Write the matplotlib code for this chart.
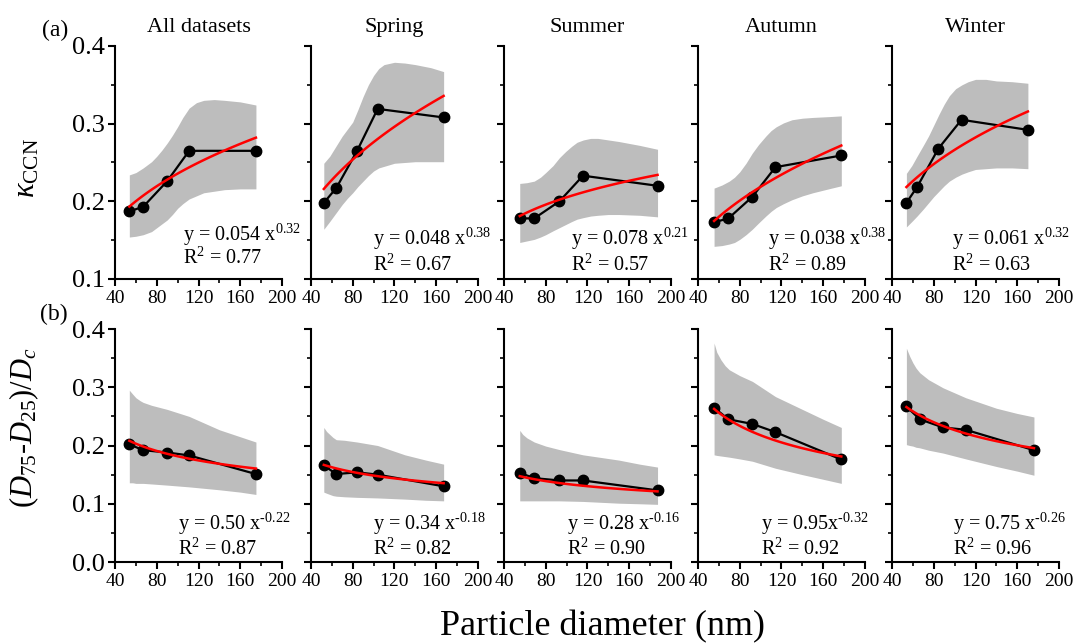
import numpy as np
import matplotlib
matplotlib.use('Agg')
import matplotlib.pyplot as plt
from matplotlib.ticker import MultipleLocator

plt.rcParams['font.family'] = 'Liberation Serif'
plt.rcParams['mathtext.fontset'] = 'custom'
plt.rcParams['mathtext.rm'] = 'Liberation Serif'
plt.rcParams['mathtext.it'] = 'Liberation Serif:italic'

seasons = ['All datasets', 'Spring', 'Summer', 'Autumn', 'Winter']

# (a) kappa_CCN vs diameter
k_x = [[53.7, 67, 90, 111, 175],
       [52.3, 64.2, 84.2, 103.9, 167.1],
       [55.1, 69, 93.1, 115.7, 187.1],
       [55.4, 69.1, 92.2, 114.2, 177.3],
       [53.8, 64.3, 84.5, 106.6, 170.2]]
k_y = [[0.187, 0.193, 0.226, 0.265, 0.265],
       [0.198, 0.217, 0.265, 0.319, 0.308],
       [0.178, 0.178, 0.200, 0.233, 0.220],
       [0.173, 0.178, 0.206, 0.244, 0.259],
       [0.198, 0.219, 0.268, 0.305, 0.292]]
k_band_x = [[53.7, 60, 67, 75, 80, 85, 90, 95, 100, 105, 111, 118, 125, 135, 145, 160, 175],
            [52.3, 58, 64, 70, 75, 80, 85, 90, 95, 100, 105, 110, 120, 130, 140, 155, 167.1],
            [55.1, 62, 69, 75, 80, 87, 93, 99, 105, 110, 116, 123, 130, 140, 150, 170, 187.1],
            [55.4, 63, 70, 75, 80, 86, 92, 98, 105, 110, 115, 122, 130, 140, 150, 165, 177.3],
            [53.8, 59, 64, 70, 75, 80, 85, 90, 95, 101, 107, 113, 120, 130, 140, 155, 170.2]]
k_upper = [[0.234, 0.237, 0.243, 0.251, 0.258, 0.266, 0.275, 0.285, 0.296, 0.308, 0.320, 0.327, 0.330, 0.331, 0.330, 0.328, 0.324],
           [0.249, 0.258, 0.271, 0.284, 0.293, 0.302, 0.318, 0.335, 0.350, 0.362, 0.371, 0.376, 0.379, 0.378, 0.376, 0.372, 0.367],
           [0.223, 0.224, 0.226, 0.231, 0.237, 0.246, 0.256, 0.264, 0.271, 0.276, 0.279, 0.281, 0.281, 0.279, 0.277, 0.272, 0.267],
           [0.217, 0.221, 0.226, 0.231, 0.238, 0.249, 0.262, 0.273, 0.284, 0.291, 0.296, 0.301, 0.305, 0.307, 0.308, 0.309, 0.310],
           [0.236, 0.246, 0.258, 0.272, 0.284, 0.298, 0.312, 0.325, 0.336, 0.345, 0.350, 0.354, 0.357, 0.357, 0.355, 0.354, 0.352]]
k_lower = [[0.154, 0.155, 0.157, 0.161, 0.166, 0.171, 0.176, 0.183, 0.191, 0.197, 0.203, 0.207, 0.211, 0.213, 0.215, 0.216, 0.216],
           [0.164, 0.174, 0.185, 0.196, 0.204, 0.211, 0.219, 0.226, 0.233, 0.239, 0.243, 0.245, 0.249, 0.250, 0.251, 0.251, 0.251],
           [0.147, 0.149, 0.151, 0.154, 0.157, 0.162, 0.166, 0.170, 0.174, 0.177, 0.179, 0.181, 0.182, 0.183, 0.183, 0.182, 0.180],
           [0.142, 0.143, 0.145, 0.147, 0.151, 0.157, 0.164, 0.172, 0.181, 0.187, 0.192, 0.197, 0.202, 0.207, 0.211, 0.216, 0.220],
           [0.167, 0.174, 0.181, 0.190, 0.198, 0.206, 0.213, 0.220, 0.226, 0.231, 0.235, 0.238, 0.241, 0.242, 0.243, 0.243, 0.242]]
k_a = [0.054, 0.048, 0.078, 0.038, 0.061]
k_b = [0.32, 0.38, 0.21, 0.38, 0.32]
k_r2 = [0.77, 0.67, 0.57, 0.89, 0.63]
k_eq = ['y = 0.054 x', 'y = 0.048 x', 'y = 0.078 x', 'y = 0.038 x', 'y = 0.061 x']
k_exp = ['0.32', '0.38', '0.21', '0.38', '0.32']

# (b) (D75-D25)/Dc vs diameter
w_x = [[53.7, 67, 90, 111, 175],
       [52.3, 64.2, 84.2, 103.9, 167.1],
       [55.1, 69, 93.1, 115.7, 187.1],
       [55.4, 69.1, 92.2, 114.2, 177.3],
       [53.8, 66.6, 89, 110.7, 176]]
w_y = [[0.202, 0.192, 0.188, 0.183, 0.151],
       [0.166, 0.151, 0.154, 0.150, 0.130],
       [0.153, 0.144, 0.140, 0.140, 0.123],
       [0.265, 0.245, 0.237, 0.223, 0.176],
       [0.267, 0.245, 0.231, 0.227, 0.192]]
w_band_x = [[53.7, 57, 60, 64, 67, 75, 90, 111, 140, 160, 175],
            [52.3, 55, 58, 61, 64.2, 72, 84.2, 103.9, 130, 150, 167.1],
            [55.1, 58, 62, 66, 69, 80, 93.1, 115.7, 150, 170, 187.1],
            [55.4, 58, 62, 66, 70, 80, 92.2, 114.2, 140, 160, 177.3],
            [53.8, 57, 60, 63, 66.6, 75, 89, 110.7, 140, 160, 176]]
w_upper = [[0.295, 0.288, 0.282, 0.277, 0.274, 0.269, 0.262, 0.250, 0.227, 0.215, 0.206],
           [0.231, 0.224, 0.219, 0.214, 0.210, 0.209, 0.206, 0.200, 0.184, 0.175, 0.168],
           [0.226, 0.219, 0.213, 0.209, 0.206, 0.199, 0.193, 0.184, 0.175, 0.168, 0.163],
           [0.376, 0.360, 0.347, 0.337, 0.330, 0.320, 0.310, 0.284, 0.262, 0.245, 0.231],
           [0.367, 0.353, 0.342, 0.333, 0.325, 0.313, 0.299, 0.282, 0.264, 0.255, 0.249]]
w_lower = [[0.136, 0.136, 0.135, 0.135, 0.135, 0.134, 0.132, 0.129, 0.124, 0.120, 0.116],
           [0.120, 0.118, 0.116, 0.114, 0.113, 0.112, 0.111, 0.110, 0.108, 0.106, 0.105],
           [0.105, 0.105, 0.105, 0.105, 0.105, 0.105, 0.105, 0.104, 0.101, 0.100, 0.099],
           [0.184, 0.183, 0.182, 0.181, 0.180, 0.177, 0.173, 0.161, 0.150, 0.142, 0.135],
           [0.2015, 0.200, 0.199, 0.197, 0.196, 0.192, 0.187, 0.177, 0.164, 0.156, 0.149]]
w_a = [0.50, 0.34, 0.28, 0.95, 0.75]
w_b = [-0.22, -0.18, -0.16, -0.32, -0.26]
w_r2 = [0.87, 0.82, 0.90, 0.92, 0.96]
w_eq = ['y = 0.50 x', 'y = 0.34 x', 'y = 0.28 x', 'y = 0.95x', 'y = 0.75 x']
w_exp = ['-0.22', '-0.18', '-0.16', '-0.32', '-0.26']

# layout (figure fractions)
col_left = [0.1069, 0.2890, 0.4684, 0.6487, 0.8290]
col_w = 0.1552
row_bottom = [0.5668, 0.1273]
row_h = 0.3618
eq_pos_top = [0.41, 0.37, 0.40, 0.42, 0.36]
eq_pos_bot = [0.375, 0.37, 0.38, 0.38, 0.365]

fig = plt.figure(figsize=(10.76, 6.44), dpi=100)


def draw_panel(ax, x, y, bx, up, lo, a, b, r2, eq, ex, ylim, eqx, eqy):
    ax.fill_between(bx, lo, up, color='#bdbdbd', lw=0, zorder=1)
    ax.plot(x, y, '-o', color='black', lw=1.6, ms=7.5, zorder=3, clip_on=False)
    xf = np.linspace(x[0], x[-1], 100)
    ax.plot(xf, a * xf ** b, color='#ff0000', lw=1.8, zorder=4)
    ax.set_xlim(40, 200)
    ax.set_ylim(*ylim)
    ax.xaxis.set_major_locator(MultipleLocator(40))
    ax.xaxis.set_minor_locator(MultipleLocator(20))
    ax.yaxis.set_major_locator(MultipleLocator(0.1))
    ax.yaxis.set_minor_locator(MultipleLocator(0.05))
    for s in ['top', 'right']:
        ax.spines[s].set_visible(False)
    for s in ['left', 'bottom']:
        ax.spines[s].set_linewidth(1.5)
    ax.tick_params(which='major', direction='out', length=5, width=1.5)
    ax.tick_params(which='minor', direction='out', length=3, width=1.2)
    ax.tick_params(axis='x', labelsize=14, pad=3)
    ax.tick_params(axis='y', labelsize=19, pad=2)
    ax.text(eqx, eqy[0], eq + r'$^{\text{%s}}$' % ex, transform=ax.transAxes,
            fontsize=14.5, va='baseline', ha='left')
    ax.text(eqx, eqy[1], r'R$^{\text{2}}$ = %.2f' % r2, transform=ax.transAxes,
            fontsize=14.5, va='baseline', ha='left')


for i in range(5):
    ax = fig.add_axes([col_left[i], row_bottom[0], col_w, row_h])
    draw_panel(ax, k_x[i], k_y[i], k_band_x[i], k_upper[i], k_lower[i],
               k_a[i], k_b[i], k_r2[i], k_eq[i], k_exp[i], (0.1, 0.4), eq_pos_top[i],
               (0.165 if i == 0 else 0.145, 0.065 if i == 0 else 0.035))
    ax.set_title(seasons[i], fontsize=16, pad=10)
    ax.set_yticks([0.1, 0.2, 0.3, 0.4])
    if i > 0:
        ax.set_yticklabels([])

    ax2 = fig.add_axes([col_left[i], row_bottom[1], col_w, row_h])
    draw_panel(ax2, w_x[i], w_y[i], w_band_x[i], w_upper[i], w_lower[i],
               w_a[i], w_b[i], w_r2[i], w_eq[i], w_exp[i], (0.0, 0.4), eq_pos_bot[i],
               (0.14, 0.03))
    ax2.set_yticks([0.0, 0.1, 0.2, 0.3, 0.4])
    if i > 0:
        ax2.set_yticklabels([])

fig.text(27 / 1076, 1 - 168 / 644, r'$\kappa_{\mathrm{CCN}}$', rotation=90,
         ha='center', va='center', fontsize=22)
fig.text(24 / 1076, 1 - 428 / 644, r'$(D_{\mathit{75}}$-$D_{\mathit{25}})/D_{c}$',
         rotation=90, ha='center', va='center', fontsize=22)
fig.text(42 / 1076, 1 - 30 / 644, '(a)', fontsize=17, ha='left', va='center')
fig.text(40 / 1076, 1 - 314 / 644, '(b)', fontsize=17, ha='left', va='center')
fig.text(602 / 1076, 1 - 627 / 644, 'Particle diameter (nm)', fontsize=26,
         ha='center', va='center')

fig.savefig('out.png', dpi=100)
